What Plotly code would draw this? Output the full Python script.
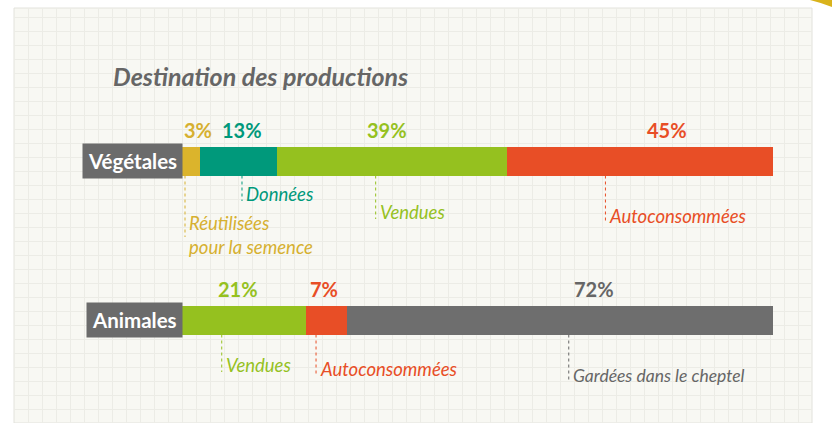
import plotly.graph_objects as go

# ---------------- data ----------------
categories = ["Végétales", "Animales"]

veg_labels = ["Réutilisées<br>pour la semence", "Données", "Vendues", "Autoconsommées"]
veg_values = [3, 13, 39, 45]

ani_labels = ["Vendues", "Autoconsommées", "Gardées dans le cheptel"]
ani_values = [21, 7, 72]

title_text = "Destination des productions"

# ---------------- style ----------------
W, H = 832, 423
YELLOW, TEAL, GREEN, RED, GRAY = "#dbb42c", "#00997b", "#95c11f", "#e84e26", "#6e6e6e"
veg_colors = [YELLOW, TEAL, GREEN, RED]
ani_colors = [GREEN, RED, GRAY]
veg_txt_colors = ["#d6b030", TEAL, GREEN, RED]
ani_txt_colors = [GREEN, RED, "#666666"]

veg_pct_anchor = [0.9, 0.55, 0.48, 0.6]
ani_pct_anchor = [0.45, 0.44, 0.58]
veg_lead_anchor = [0.17, 0.55, 0.43, 0.37]
ani_lead_anchor = [0.32, 0.24, 0.52]
veg_lab_off = [74, 33, 51, 55]      # px below bar center (label middle)
ani_lab_off = [45, 49, 55]
veg_lead_end = [76, 40, 58, 62]     # px below bar center (leader end)
ani_lead_end = [52, 56, 62]
label_sizes_veg = [18.5, 18.5, 18.5, 18.5]
label_sizes_ani = [18.5, 18.5, 17.5]

FONT = "Lato"

# bar axis geometry (pixels)
bar_x0, bar_x1 = 182, 773
row_centers_px = [161, 320]
bar_px = 29
pxu = row_centers_px[1] - row_centers_px[0]          # px per category unit
y_top = -row_centers_px[0] / pxu
y_bot = (H - row_centers_px[0]) / pxu

fig = go.Figure()

# grid paper subplot (x / y) drawn first so bars sit above
paper_x0, paper_x1, paper_top = 14, 812, 8
fig.add_trace(go.Scatter(x=[paper_x0], y=[0], mode="markers",
                         marker=dict(opacity=0), hoverinfo="skip",
                         showlegend=False, xaxis="x", yaxis="y"))

# bars
rows = [(categories[0], veg_values, veg_colors), (categories[1], ani_values, ani_colors)]
for cat, vals, cols in rows:
    for v, c in zip(vals, cols):
        fig.add_trace(go.Bar(x=[v], y=[cat], orientation="h", marker=dict(color=c, line=dict(width=0)),
                             width=bar_px / pxu, showlegend=False, hoverinfo="skip",
                             xaxis="x2", yaxis="y2"))

annotations = []
shapes = []

# paper sheet
shapes.append(dict(type="rect", xref="paper", yref="paper", layer="below",
                   x0=paper_x0 / W, x1=paper_x1 / W, y0=0, y1=1 - paper_top / H,
                   fillcolor="#f8f8f3", line=dict(color="#e2e2dc", width=1)))

# title
annotations.append(dict(text="<b><i>" + title_text + "</i></b>", xref="paper", yref="paper",
                        x=111 / W, y=1 - 76 / H, xanchor="left", yanchor="middle", showarrow=False,
                        font=dict(family=FONT, size=25, color="#666666")))

# category boxes
for cat in categories:
    annotations.append(dict(text="<b>" + cat + "</b>", x=0, y=cat, xref="x2", yref="y2",
                            xanchor="right", yanchor="middle", showarrow=False,
                            xshift=1, bgcolor="#6b6b6b", borderpad=5,
                            font=dict(family=FONT, size=20.5, color="white")))

def row_annots(cat, idx, vals, labels, txt_cols, pct_anchor, lead_anchor, lab_off, lead_end, sizes):
    start = 0
    for v, lab, tc, pa, la, lo, le, fs in zip(vals, labels, txt_cols, pct_anchor, lead_anchor,
                                              lab_off, lead_end, sizes):
        annotations.append(dict(text="<b>%d%%</b>" % v, x=start + pa * v, y=cat, xref="x2", yref="y2",
                                xanchor="center", yanchor="middle", yshift=31, showarrow=False,
                                font=dict(family=FONT, size=20, color=tc)))
        lx = start + la * v
        annotations.append(dict(text="<i>" + lab + "</i>", x=lx, y=cat, xref="x2", yref="y2",
                                xanchor="left", yanchor="middle", xshift=2, yshift=-lo, showarrow=False,
                                align="left", font=dict(family=FONT, size=fs, color=tc)))
        shapes.append(dict(type="line", xref="x2", yref="y2", x0=lx, x1=lx,
                           y0=idx + (bar_px / 2) / pxu, y1=idx + le / pxu,
                           line=dict(color=tc, width=1, dash="dot")))
        start += v

row_annots(categories[0], 0, veg_values, veg_labels, veg_txt_colors, veg_pct_anchor,
           veg_lead_anchor, veg_lab_off, veg_lead_end, label_sizes_veg)
row_annots(categories[1], 1, ani_values, ani_labels, ani_txt_colors, ani_pct_anchor,
           ani_lead_anchor, ani_lab_off, ani_lead_end, label_sizes_ani)

# small yellow corner accent (top right)
shapes.append(dict(type="path", xref="paper", yref="paper",
                   path="M %f,1 Q %f,%f 1,%f L 1,1 Z" % (810 / W, 822 / W, 1 - 3 / H, 1 - 7 / H),
                   fillcolor="#d9b31c", line=dict(width=0)))

fig.update_layout(
    width=W, height=H,
    margin=dict(l=0, r=0, t=0, b=0),
    paper_bgcolor="white",
    plot_bgcolor="rgba(0,0,0,0)",
    barmode="stack",
    bargap=0,
    xaxis=dict(domain=[paper_x0 / W, paper_x1 / W], range=[paper_x0, paper_x1],
               showgrid=True, gridcolor="#ecece6", gridwidth=1, tick0=paper_x0, dtick=14,
               showticklabels=False, zeroline=False, showline=False, fixedrange=True),
    yaxis=dict(domain=[0, 1 - paper_top / H], range=[0, H - paper_top],
               showgrid=True, gridcolor="#ecece6", gridwidth=1, tick0=0, dtick=14,
               showticklabels=False, zeroline=False, showline=False, fixedrange=True),
    xaxis2=dict(domain=[bar_x0 / W, bar_x1 / W], range=[0, 100], anchor="y2",
                showgrid=False, showticklabels=False, zeroline=False, showline=False),
    yaxis2=dict(domain=[0, 1], range=[y_bot, y_top], anchor="x2", type="category",
                categoryorder="array", categoryarray=categories,
                showgrid=False, showticklabels=False, zeroline=False, showline=False),
    annotations=annotations,
    shapes=shapes,
)

fig.write_html("out.html", config={"displayModeBar": False},
               post_script="document.body.style.margin='0px';")
